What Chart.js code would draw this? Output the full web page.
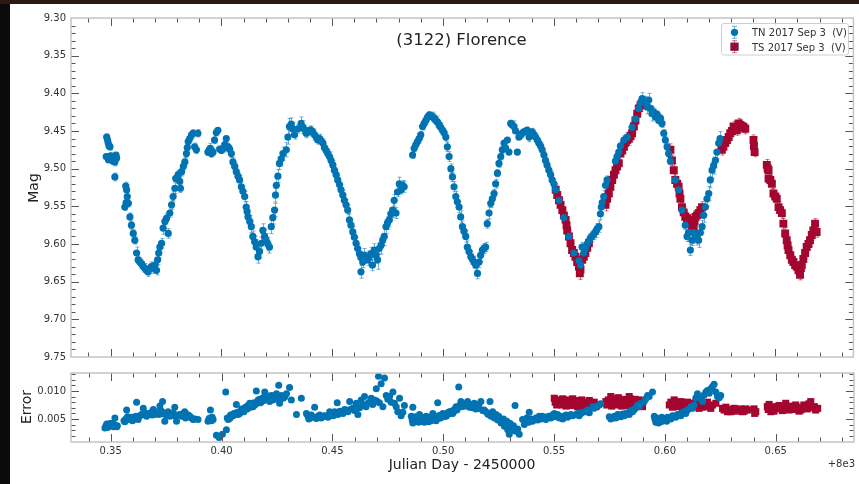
<!DOCTYPE html>
<html>
<head>
<meta charset="utf-8">
<script src="https://cdn.jsdelivr.net/npm/chart.js@4.4.1/dist/chart.umd.min.js"></script>
<style>
  html, body { margin: 0; padding: 0; }
  body { width: 859px; height: 484px; background: #0c0a0a; position: relative; overflow: hidden; font-family: "DejaVu Sans", sans-serif; color: #222; }
  #topstrip { position: absolute; left: 0; top: 0; width: 859px; height: 4px; background: #2b1a14; }
  #paper { position: absolute; left: 10px; top: 4px; width: 849px; height: 480px; background: #fff; }
  canvas { position: absolute; left: 0; }
  #magChart { top: 0; }
  #errChart { top: 360px; }
  .txt { position: absolute; white-space: pre; }
  .rot { transform: translate(-50%, -50%) rotate(-90deg); }
</style>
</head>
<body>
<div id="topstrip"></div>
<div id="paper"></div>
<canvas id="magChart" width="859" height="372"></canvas>
<canvas id="errChart" width="859" height="124"></canvas>

<div class="txt" style="left:461.5px; top:32px; font-size:16.5px; line-height:16.5px; transform:translateX(-50%);">(3122) Florence</div>
<div class="txt rot" style="left:32.6px; top:188px; font-size:14px; line-height:14px;">Mag</div>
<div class="txt rot" style="left:26.2px; top:407px; font-size:14px; line-height:14px;">Error</div>
<div class="txt" style="left:462px; top:456.7px; font-size:14px; line-height:14px; transform:translateX(-50%);">Julian Day - 2450000</div>
<div class="txt" style="right:4px; top:458.5px; font-size:10px; line-height:10px; color:#333;">+8e3</div>
<div class="txt" style="left:752px; top:28px; font-size:10px; line-height:10px; color:#333;">TN 2017 Sep 3  (V)</div>
<div class="txt" style="left:752px; top:42.5px; font-size:10px; line-height:10px; color:#333;">TS 2017 Sep 3  (V)</div>

<script>
// JD - 2458000 (days), magnitude, per observer
const tnJd = [
  0.3480, 0.3482, 0.3486, 0.3489, 0.3490, 0.3493, 0.3497, 0.3500, 0.3510, 0.3519,
  0.3519, 0.3524, 0.3527, 0.3564, 0.3568, 0.3570, 0.3572, 0.3575, 0.3580, 0.3587,
  0.3594, 0.3602, 0.3609, 0.3617, 0.3624, 0.3632, 0.3639, 0.3647, 0.3654, 0.3662,
  0.3669, 0.3677, 0.3684, 0.3692, 0.3700, 0.3707, 0.3712, 0.3717, 0.3722, 0.3730,
  0.3737, 0.3745, 0.3752, 0.3760, 0.3767, 0.3775, 0.3782, 0.3790, 0.3794, 0.3805,
  0.3812, 0.3815, 0.3820, 0.3828, 0.3835, 0.3842, 0.3846, 0.3850, 0.3857, 0.3865,
  0.3872, 0.3879, 0.3887, 0.3894, 0.3939, 0.3945, 0.3950, 0.3955, 0.3962, 0.3969,
  0.3977, 0.3984, 0.3992, 0.4000, 0.4007, 0.4015, 0.4022, 0.4030, 0.4037, 0.4045,
  0.4052, 0.4060, 0.4067, 0.4075, 0.4082, 0.4090, 0.4097, 0.4105, 0.4112, 0.4116,
  0.4120, 0.4128, 0.4135, 0.4142, 0.4150, 0.4157, 0.4165, 0.4172, 0.4180, 0.4187,
  0.4195, 0.4202, 0.4210, 0.4217, 0.4225, 0.4232, 0.4240, 0.4244, 0.4248, 0.4255,
  0.4262, 0.4270, 0.4278, 0.4293, 0.4300, 0.4307, 0.4315, 0.4322, 0.4330, 0.4345,
  0.4360, 0.4368, 0.4375, 0.4383, 0.4390, 0.4398, 0.4405, 0.4413, 0.4420, 0.4428,
  0.4435, 0.4443, 0.4450, 0.4458, 0.4465, 0.4473, 0.4480, 0.4488, 0.4495, 0.4503,
  0.4510, 0.4518, 0.4525, 0.4533, 0.4540, 0.4548, 0.4555, 0.4563, 0.4570, 0.4578,
  0.4585, 0.4593, 0.4600, 0.4608, 0.4615, 0.4623, 0.4630, 0.4630, 0.4638, 0.4645,
  0.4652, 0.4660, 0.4668, 0.4675, 0.4682, 0.4690, 0.4698, 0.4705, 0.4712, 0.4720,
  0.4728, 0.4735, 0.4743, 0.4750, 0.4758, 0.4765, 0.4773, 0.4780, 0.4788, 0.4795,
  0.4803, 0.4810, 0.4818, 0.4825, 0.4863, 0.4870, 0.4878, 0.4885, 0.4893, 0.4900,
  0.4908, 0.4915, 0.4923, 0.4930, 0.4938, 0.4945, 0.4953, 0.4960, 0.4968, 0.4975,
  0.4983, 0.4990, 0.4998, 0.5005, 0.5013, 0.5020, 0.5028, 0.5036, 0.5043, 0.5050,
  0.5058, 0.5065, 0.5073, 0.5080, 0.5088, 0.5095, 0.5103, 0.5110, 0.5118, 0.5126,
  0.5133, 0.5140, 0.5148, 0.5156, 0.5163, 0.5170, 0.5178, 0.5185, 0.5193, 0.5200,
  0.5208, 0.5216, 0.5223, 0.5231, 0.5238, 0.5246, 0.5253, 0.5261, 0.5268, 0.5276,
  0.5283, 0.5291, 0.5298, 0.5306, 0.5313, 0.5321, 0.5328, 0.5336, 0.5343, 0.5351,
  0.5358, 0.5366, 0.5373, 0.5381, 0.5389, 0.5396, 0.5403, 0.5411, 0.5418, 0.5426,
  0.5433, 0.5441, 0.5448, 0.5456, 0.5463, 0.5470, 0.5478, 0.5486, 0.5493, 0.5501,
  0.5508, 0.5524, 0.5546, 0.5569, 0.5591, 0.5614, 0.5621, 0.5628, 0.5636, 0.5643,
  0.5651, 0.5659, 0.5666, 0.5673, 0.5681, 0.5689, 0.5696, 0.5704, 0.5711, 0.5715,
  0.5719, 0.5726, 0.5734, 0.5741, 0.5779, 0.5786, 0.5794, 0.5801, 0.5817, 0.5832,
  0.5854, 0.5869, 0.5884, 0.5892, 0.5899, 0.5907, 0.5914, 0.5922, 0.5929, 0.5937,
  0.5944, 0.5952, 0.5959, 0.5967, 0.5974, 0.5982, 0.5989, 0.5997, 0.6004, 0.6012,
  0.6019, 0.6027, 0.6049, 0.6064, 0.6079, 0.6094, 0.6102, 0.6109, 0.6117, 0.6124,
  0.6132, 0.6140, 0.6147, 0.6154, 0.6162, 0.6170, 0.6177, 0.6185, 0.6192, 0.6200,
  0.6207, 0.6215, 0.6222, 0.6230, 0.6237, 0.6245, 0.6251
];
const tnMag = [
  9.484, 9.458, 9.462, 9.466, 9.488, 9.470, 9.471, 9.483, 9.490, 9.491,
  9.511, 9.482, 9.486, 9.551, 9.523, 9.545, 9.528, 9.537, 9.546, 9.564,
  9.575, 9.586, 9.595, 9.612, 9.621, 9.624, 9.626, 9.630, 9.632, 9.635,
  9.637, 9.633, 9.630, 9.632, 9.628, 9.635, 9.621, 9.612, 9.604, 9.599,
  9.579, 9.570, 9.566, 9.586, 9.559, 9.548, 9.537, 9.526, 9.513, 9.508,
  9.517, 9.526, 9.504, 9.497, 9.491, 9.480, 9.472, 9.464, 9.460, 9.455,
  9.453, 9.471, 9.475, 9.453, 9.478, 9.475, 9.473, 9.480, 9.478, 9.462,
  9.452, 9.449, 9.474, 9.476, 9.473, 9.468, 9.460, 9.471, 9.474, 9.480,
  9.491, 9.497, 9.504, 9.510, 9.515, 9.524, 9.530, 9.537, 9.551, 9.557,
  9.564, 9.570, 9.577, 9.590, 9.597, 9.604, 9.617, 9.610, 9.599, 9.582,
  9.590, 9.595, 9.600, 9.604, 9.577, 9.565, 9.555, 9.535, 9.522, 9.510,
  9.493, 9.487, 9.480, 9.475, 9.458, 9.444, 9.441, 9.447, 9.455, 9.447,
  9.440, 9.445, 9.448, 9.453, 9.451, 9.449, 9.449, 9.452, 9.455, 9.458,
  9.462, 9.460, 9.463, 9.466, 9.472, 9.476, 9.480, 9.484, 9.489, 9.495,
  9.502, 9.508, 9.515, 9.521, 9.528, 9.535, 9.542, 9.548, 9.555, 9.568,
  9.575, 9.584, 9.591, 9.599, 9.606, 9.613, 9.618, 9.637, 9.624, 9.615,
  9.618, 9.621, 9.617, 9.613, 9.628, 9.608, 9.615, 9.621, 9.606, 9.602,
  9.595, 9.590, 9.577, 9.572, 9.568, 9.560, 9.555, 9.542, 9.559, 9.531,
  9.520, 9.528, 9.522, 9.524, 9.482, 9.473, 9.468, 9.464, 9.460, 9.455,
  9.444, 9.440, 9.436, 9.432, 9.429, 9.430, 9.431, 9.433, 9.436, 9.438,
  9.442, 9.445, 9.449, 9.452, 9.458, 9.471, 9.484, 9.500, 9.511, 9.524,
  9.537, 9.544, 9.551, 9.564, 9.577, 9.583, 9.590, 9.604, 9.610, 9.617,
  9.620, 9.624, 9.628, 9.639, 9.624, 9.615, 9.608, 9.606, 9.604, 9.573,
  9.559, 9.546, 9.540, 9.533, 9.520, 9.506, 9.493, 9.484, 9.475, 9.466,
  9.473, 9.462, 9.478, 9.440, 9.442, 9.444, 9.450, 9.478, 9.458, 9.455,
  9.453, 9.451, 9.450, 9.449, 9.458, 9.454, 9.451, 9.455, 9.458, 9.462,
  9.466, 9.470, 9.475, 9.482, 9.489, 9.495, 9.502, 9.508, 9.515, 9.520,
  9.528, 9.542, 9.565, 9.590, 9.612, 9.622, 9.628, 9.604, 9.612, 9.606,
  9.600, 9.596, 9.592, 9.590, 9.587, 9.584, 9.580, 9.577, 9.560, 9.551,
  9.545, 9.537, 9.522, 9.515, 9.490, 9.484, 9.478, 9.470, 9.462, 9.458,
  9.445, 9.434, 9.420, 9.412, 9.407, 9.412, 9.413, 9.418, 9.409, 9.420,
  9.427, 9.425, 9.431, 9.428, 9.436, 9.433, 9.440, 9.453, 9.462, 9.471,
  9.480, 9.490, 9.515, 9.528, 9.555, 9.575, 9.590, 9.585, 9.608, 9.595,
  9.585, 9.590, 9.592, 9.595, 9.585, 9.577, 9.562, 9.551, 9.540, 9.533,
  9.515, 9.502, 9.496, 9.489, 9.478, 9.466, 9.460
];

const tsJd = [
  0.5509, 0.5516, 0.5524, 0.5531, 0.5539, 0.5546, 0.5554, 0.5558, 0.5561, 0.5569,
  0.5576, 0.5583, 0.5591, 0.5598, 0.5606, 0.5614, 0.5618, 0.5621, 0.5628, 0.5636,
  0.5643, 0.5651, 0.5659, 0.5734, 0.5741, 0.5749, 0.5756, 0.5764, 0.5772, 0.5779,
  0.5786, 0.5794, 0.5801, 0.5809, 0.5817, 0.5821, 0.5824, 0.5832, 0.5839, 0.5847,
  0.5854, 0.5862, 0.5869, 0.5877, 0.5884, 0.5892, 0.6027, 0.6034, 0.6042, 0.6049,
  0.6057, 0.6064, 0.6068, 0.6072, 0.6079, 0.6087, 0.6094, 0.6102, 0.6109, 0.6117,
  0.6124, 0.6132, 0.6136, 0.6140, 0.6147, 0.6154, 0.6162, 0.6170, 0.6259, 0.6266,
  0.6274, 0.6282, 0.6290, 0.6297, 0.6305, 0.6312, 0.6320, 0.6327, 0.6335, 0.6342,
  0.6350, 0.6357, 0.6365, 0.6402, 0.6404, 0.6407, 0.6462, 0.6466, 0.6470, 0.6470,
  0.6478, 0.6485, 0.6492, 0.6500, 0.6507, 0.6515, 0.6522, 0.6530, 0.6537, 0.6545,
  0.6552, 0.6556, 0.6560, 0.6568, 0.6575, 0.6582, 0.6590, 0.6597, 0.6605, 0.6612,
  0.6616, 0.6620, 0.6627, 0.6635, 0.6642, 0.6650, 0.6657, 0.6665, 0.6672, 0.6680,
  0.6687
];
const tsMag = [
  9.528, 9.535, 9.542, 9.548, 9.555, 9.562, 9.568, 9.575, 9.582, 9.590,
  9.599, 9.608, 9.612, 9.617, 9.624, 9.630, 9.639, 9.634, 9.621, 9.617,
  9.612, 9.605, 9.599, 9.548, 9.540, 9.533, 9.524, 9.515, 9.508, 9.502,
  9.497, 9.493, 9.480, 9.476, 9.471, 9.466, 9.464, 9.462, 9.460, 9.457,
  9.453, 9.444, 9.436, 9.427, 9.420, 9.416, 9.475, 9.489, 9.502, 9.515,
  9.520, 9.524, 9.533, 9.540, 9.551, 9.558, 9.564, 9.566, 9.568, 9.572,
  9.575, 9.577, 9.570, 9.564, 9.562, 9.559, 9.555, 9.551, 9.475, 9.471,
  9.466, 9.462, 9.458, 9.453, 9.450, 9.444, 9.446, 9.449, 9.440, 9.442,
  9.444, 9.445, 9.447, 9.462, 9.470, 9.478, 9.495, 9.500, 9.502, 9.513,
  9.515, 9.520, 9.533, 9.537, 9.540, 9.551, 9.555, 9.559, 9.573, 9.586,
  9.595, 9.602, 9.608, 9.615, 9.621, 9.624, 9.628, 9.630, 9.635, 9.641,
  9.632, 9.628, 9.620, 9.612, 9.604, 9.600, 9.595, 9.588, 9.582, 9.573,
  9.584
];

// photometric errors (bottom panel), [JD - 2458000, error]
const tnErrPts = [
  [0.3474, 0.0034], [0.3478, 0.0037], [0.3482, 0.0041], [0.3486, 0.0035], [0.3489, 0.0040],
  [0.3493, 0.0039], [0.3497, 0.0042], [0.3500, 0.0038], [0.3504, 0.0042], [0.3508, 0.0041],
  [0.3512, 0.0036], [0.3516, 0.0040], [0.3519, 0.0052], [0.3527, 0.0036], [0.3530, 0.0038],
  [0.3560, 0.0047], [0.3564, 0.0045], [0.3568, 0.0050], [0.3572, 0.0066], [0.3576, 0.0054],
  [0.3580, 0.0049], [0.3587, 0.0052], [0.3594, 0.0053], [0.3598, 0.0047], [0.3602, 0.0049],
  [0.3609, 0.0051], [0.3613, 0.0055], [0.3617, 0.0080], [0.3624, 0.0049], [0.3632, 0.0056],
  [0.3639, 0.0058], [0.3647, 0.0069], [0.3654, 0.0061], [0.3658, 0.0057], [0.3662, 0.0055],
  [0.3669, 0.0059], [0.3677, 0.0060], [0.3684, 0.0062], [0.3688, 0.0057], [0.3692, 0.0067],
  [0.3699, 0.0058], [0.3707, 0.0060], [0.3714, 0.0063], [0.3718, 0.0058], [0.3722, 0.0073],
  [0.3730, 0.0064], [0.3734, 0.0081], [0.3740, 0.0059], [0.3744, 0.0046], [0.3752, 0.0057],
  [0.3759, 0.0063], [0.3767, 0.0055], [0.3775, 0.0060], [0.3782, 0.0061], [0.3786, 0.0056],
  [0.3789, 0.0071], [0.3797, 0.0046], [0.3805, 0.0057], [0.3812, 0.0058], [0.3820, 0.0055],
  [0.3827, 0.0060], [0.3834, 0.0063], [0.3838, 0.0052], [0.3842, 0.0058], [0.3850, 0.0057],
  [0.3857, 0.0055], [0.3865, 0.0052], [0.3872, 0.0049], [0.3879, 0.0050], [0.3894, 0.0049],
  [0.3939, 0.0046], [0.3943, 0.0050], [0.3947, 0.0052], [0.3950, 0.0066], [0.3955, 0.0047],
  [0.3958, 0.0053], [0.3962, 0.0049], [0.3977, 0.0021], [0.3989, 0.0017], [0.4004, 0.0023],
  [0.4019, 0.0098], [0.4022, 0.0031], [0.4026, 0.0052], [0.4030, 0.0049], [0.4037, 0.0051],
  [0.4041, 0.0057], [0.4045, 0.0055], [0.4052, 0.0056], [0.4056, 0.0060], [0.4060, 0.0058],
  [0.4067, 0.0076], [0.4071, 0.0062], [0.4075, 0.0058], [0.4082, 0.0060], [0.4086, 0.0064],
  [0.4090, 0.0068], [0.4097, 0.0066], [0.4101, 0.0063], [0.4105, 0.0070], [0.4112, 0.0072],
  [0.4116, 0.0068], [0.4120, 0.0074], [0.4127, 0.0078], [0.4131, 0.0071], [0.4135, 0.0076],
  [0.4142, 0.0072], [0.4146, 0.0079], [0.4150, 0.0075], [0.4157, 0.0100], [0.4161, 0.0078],
  [0.4165, 0.0084], [0.4172, 0.0085], [0.4176, 0.0079], [0.4180, 0.0081], [0.4187, 0.0088],
  [0.4191, 0.0083], [0.4195, 0.0098], [0.4202, 0.0090], [0.4206, 0.0086], [0.4210, 0.0091],
  [0.4217, 0.0081], [0.4221, 0.0087], [0.4225, 0.0092], [0.4232, 0.0084], [0.4236, 0.0089],
  [0.4240, 0.0090], [0.4244, 0.0093], [0.4248, 0.0095], [0.4252, 0.0086], [0.4258, 0.0110],
  [0.4262, 0.0078], [0.4270, 0.0092], [0.4278, 0.0087], [0.4285, 0.0089], [0.4293, 0.0095],
  [0.4307, 0.0106], [0.4315, 0.0084], [0.4338, 0.0058], [0.4360, 0.0087], [0.4383, 0.0060],
  [0.4390, 0.0055], [0.4394, 0.0050], [0.4398, 0.0052], [0.4405, 0.0057], [0.4413, 0.0053],
  [0.4420, 0.0071], [0.4428, 0.0051], [0.4435, 0.0055], [0.4443, 0.0057], [0.4450, 0.0052],
  [0.4458, 0.0055], [0.4465, 0.0056], [0.4473, 0.0055], [0.4480, 0.0053], [0.4488, 0.0063],
  [0.4495, 0.0059], [0.4503, 0.0056], [0.4510, 0.0063], [0.4518, 0.0061], [0.4522, 0.0079],
  [0.4525, 0.0058], [0.4533, 0.0064], [0.4540, 0.0063], [0.4548, 0.0060], [0.4555, 0.0067],
  [0.4563, 0.0066], [0.4570, 0.0063], [0.4578, 0.0081], [0.4585, 0.0068], [0.4593, 0.0069],
  [0.4600, 0.0065], [0.4604, 0.0072], [0.4608, 0.0078], [0.4615, 0.0058], [0.4623, 0.0070],
  [0.4630, 0.0084], [0.4638, 0.0075], [0.4645, 0.0090], [0.4652, 0.0072], [0.4660, 0.0078],
  [0.4668, 0.0080], [0.4675, 0.0087], [0.4682, 0.0076], [0.4690, 0.0084], [0.4698, 0.0104],
  [0.4700, 0.0082], [0.4708, 0.0126], [0.4712, 0.0079], [0.4720, 0.0113], [0.4728, 0.0072],
  [0.4735, 0.0123], [0.4743, 0.0092], [0.4750, 0.0085], [0.4758, 0.0090], [0.4765, 0.0080],
  [0.4773, 0.0098], [0.4780, 0.0078], [0.4788, 0.0072], [0.4795, 0.0063], [0.4803, 0.0087],
  [0.4810, 0.0056], [0.4818, 0.0062], [0.4825, 0.0074], [0.4856, 0.0055], [0.4860, 0.0048],
  [0.4863, 0.0043], [0.4863, 0.0071], [0.4867, 0.0051], [0.4870, 0.0045], [0.4874, 0.0054],
  [0.4878, 0.0049], [0.4882, 0.0047], [0.4885, 0.0052], [0.4889, 0.0044], [0.4893, 0.0058],
  [0.4897, 0.0050], [0.4900, 0.0046], [0.4904, 0.0053], [0.4908, 0.0046], [0.4912, 0.0048],
  [0.4915, 0.0044], [0.4919, 0.0051], [0.4923, 0.0055], [0.4927, 0.0047], [0.4930, 0.0053],
  [0.4934, 0.0045], [0.4938, 0.0049], [0.4942, 0.0051], [0.4945, 0.0047], [0.4949, 0.0054],
  [0.4953, 0.0060], [0.4957, 0.0049], [0.4960, 0.0055], [0.4964, 0.0051], [0.4968, 0.0047],
  [0.4975, 0.0079], [0.4979, 0.0056], [0.4983, 0.0052], [0.4987, 0.0052], [0.4990, 0.0057],
  [0.4998, 0.0060], [0.5002, 0.0054], [0.5005, 0.0058], [0.5013, 0.0055], [0.5017, 0.0057],
  [0.5020, 0.0061], [0.5028, 0.0063], [0.5032, 0.0060], [0.5036, 0.0064], [0.5043, 0.0060],
  [0.5047, 0.0063], [0.5050, 0.0067], [0.5058, 0.0072], [0.5062, 0.0066], [0.5065, 0.0070],
  [0.5070, 0.0107], [0.5073, 0.0074], [0.5080, 0.0081], [0.5084, 0.0072], [0.5088, 0.0076],
  [0.5095, 0.0075], [0.5099, 0.0073], [0.5103, 0.0077], [0.5110, 0.0081], [0.5114, 0.0075],
  [0.5118, 0.0071], [0.5126, 0.0072], [0.5130, 0.0076], [0.5133, 0.0070], [0.5140, 0.0078],
  [0.5144, 0.0074], [0.5148, 0.0068], [0.5156, 0.0072], [0.5160, 0.0075], [0.5163, 0.0069],
  [0.5170, 0.0081], [0.5178, 0.0065], [0.5185, 0.0066], [0.5193, 0.0063], [0.5200, 0.0060],
  [0.5204, 0.0058], [0.5211, 0.0081], [0.5216, 0.0055], [0.5223, 0.0063], [0.5231, 0.0052],
  [0.5238, 0.0058], [0.5246, 0.0048], [0.5250, 0.0055], [0.5253, 0.0052], [0.5261, 0.0043],
  [0.5265, 0.0045], [0.5272, 0.0050], [0.5276, 0.0037], [0.5280, 0.0041], [0.5287, 0.0046],
  [0.5291, 0.0031], [0.5295, 0.0036], [0.5298, 0.0023], [0.5302, 0.0042], [0.5310, 0.0030],
  [0.5313, 0.0034], [0.5317, 0.0038], [0.5324, 0.0074], [0.5328, 0.0028], [0.5336, 0.0032],
  [0.5343, 0.0023], [0.5358, 0.0049], [0.5366, 0.0040], [0.5370, 0.0047], [0.5377, 0.0052],
  [0.5385, 0.0044], [0.5388, 0.0062], [0.5388, 0.0046], [0.5396, 0.0050], [0.5403, 0.0046],
  [0.5410, 0.0049], [0.5418, 0.0052], [0.5426, 0.0048], [0.5433, 0.0055], [0.5441, 0.0050],
  [0.5448, 0.0055], [0.5456, 0.0052], [0.5463, 0.0049], [0.5470, 0.0054], [0.5478, 0.0055],
  [0.5486, 0.0052], [0.5493, 0.0057], [0.5501, 0.0060], [0.5508, 0.0054], [0.5516, 0.0058],
  [0.5524, 0.0052], [0.5531, 0.0055], [0.5539, 0.0050], [0.5546, 0.0055], [0.5554, 0.0057],
  [0.5561, 0.0053], [0.5576, 0.0058], [0.5584, 0.0056], [0.5599, 0.0058], [0.5606, 0.0060],
  [0.5613, 0.0056], [0.5621, 0.0060], [0.5629, 0.0062], [0.5644, 0.0063], [0.5651, 0.0066],
  [0.5659, 0.0061], [0.5674, 0.0072], [0.5681, 0.0069], [0.5696, 0.0073], [0.5704, 0.0075],
  [0.5711, 0.0077], [0.5749, 0.0054], [0.5756, 0.0050], [0.5764, 0.0052], [0.5772, 0.0055],
  [0.5779, 0.0052], [0.5787, 0.0058], [0.5794, 0.0057], [0.5801, 0.0054], [0.5809, 0.0059],
  [0.5817, 0.0056], [0.5824, 0.0060], [0.5832, 0.0061], [0.5839, 0.0058], [0.5847, 0.0065],
  [0.5854, 0.0063], [0.5862, 0.0067], [0.5869, 0.0070], [0.5877, 0.0075], [0.5884, 0.0072],
  [0.5892, 0.0078], [0.5907, 0.0081], [0.5914, 0.0086], [0.5922, 0.0092], [0.5929, 0.0090],
  [0.5944, 0.0098], [0.5952, 0.0055], [0.5955, 0.0050], [0.5959, 0.0044], [0.5963, 0.0052],
  [0.5967, 0.0047], [0.5971, 0.0043], [0.5974, 0.0046], [0.5978, 0.0050], [0.5982, 0.0045],
  [0.5986, 0.0053], [0.5993, 0.0047], [0.5997, 0.0049], [0.6001, 0.0051], [0.6008, 0.0046],
  [0.6012, 0.0053], [0.6020, 0.0052], [0.6027, 0.0050], [0.6034, 0.0056], [0.6042, 0.0055],
  [0.6049, 0.0053], [0.6057, 0.0058], [0.6064, 0.0058], [0.6072, 0.0056], [0.6079, 0.0061],
  [0.6086, 0.0063], [0.6094, 0.0060], [0.6102, 0.0066], [0.6117, 0.0072], [0.6124, 0.0069],
  [0.6132, 0.0075], [0.6140, 0.0088], [0.6147, 0.0095], [0.6162, 0.0086], [0.6170, 0.0081],
  [0.6177, 0.0093], [0.6185, 0.0098], [0.6192, 0.0101], [0.6200, 0.0096], [0.6207, 0.0104],
  [0.6215, 0.0108], [0.6222, 0.0112], [0.6230, 0.0098], [0.6237, 0.0090], [0.6245, 0.0088],
  [0.6252, 0.0092]
];
const tsErrPts = [
  [0.5501, 0.0087], [0.5505, 0.0080], [0.5512, 0.0075], [0.5516, 0.0084], [0.5520, 0.0077],
  [0.5524, 0.0078], [0.5531, 0.0082], [0.5535, 0.0075], [0.5539, 0.0086], [0.5546, 0.0081],
  [0.5550, 0.0079], [0.5554, 0.0073], [0.5558, 0.0084], [0.5565, 0.0076], [0.5569, 0.0078],
  [0.5573, 0.0083], [0.5580, 0.0074], [0.5584, 0.0086], [0.5591, 0.0081], [0.5595, 0.0077],
  [0.5603, 0.0083], [0.5606, 0.0072], [0.5614, 0.0075], [0.5618, 0.0080], [0.5625, 0.0084],
  [0.5629, 0.0078], [0.5633, 0.0074], [0.5640, 0.0080], [0.5644, 0.0072], [0.5651, 0.0076],
  [0.5659, 0.0083], [0.5667, 0.0078], [0.5674, 0.0073], [0.5681, 0.0080], [0.5689, 0.0072],
  [0.5696, 0.0076], [0.5734, 0.0081], [0.5738, 0.0075], [0.5745, 0.0084], [0.5752, 0.0079],
  [0.5756, 0.0090], [0.5760, 0.0073], [0.5767, 0.0086], [0.5772, 0.0078], [0.5775, 0.0082],
  [0.5783, 0.0075], [0.5790, 0.0088], [0.5794, 0.0084], [0.5798, 0.0077], [0.5805, 0.0073],
  [0.5813, 0.0085], [0.5816, 0.0081], [0.5820, 0.0076], [0.5828, 0.0082], [0.5835, 0.0074],
  [0.5839, 0.0090], [0.5843, 0.0086], [0.5850, 0.0079], [0.5858, 0.0074], [0.5862, 0.0081],
  [0.5866, 0.0085], [0.5873, 0.0077], [0.5880, 0.0080], [0.5884, 0.0084], [0.5888, 0.0073],
  [0.5895, 0.0079], [0.5899, 0.0072], [0.6020, 0.0075], [0.6027, 0.0080], [0.6034, 0.0071],
  [0.6042, 0.0084], [0.6049, 0.0079], [0.6057, 0.0074], [0.6064, 0.0072], [0.6072, 0.0081],
  [0.6079, 0.0069], [0.6086, 0.0078], [0.6094, 0.0075], [0.6102, 0.0080], [0.6109, 0.0072],
  [0.6117, 0.0070], [0.6124, 0.0076], [0.6132, 0.0078], [0.6140, 0.0081], [0.6147, 0.0073],
  [0.6154, 0.0069], [0.6162, 0.0077], [0.6170, 0.0071], [0.6177, 0.0078], [0.6185, 0.0075],
  [0.6192, 0.0080], [0.6200, 0.0072], [0.6207, 0.0069], [0.6215, 0.0075], [0.6230, 0.0078],
  [0.6260, 0.0069], [0.6267, 0.0066], [0.6275, 0.0071], [0.6282, 0.0063], [0.6290, 0.0067],
  [0.6297, 0.0063], [0.6305, 0.0066], [0.6312, 0.0069], [0.6320, 0.0064], [0.6327, 0.0067],
  [0.6342, 0.0068], [0.6350, 0.0063], [0.6357, 0.0064], [0.6365, 0.0068], [0.6372, 0.0066],
  [0.6402, 0.0068], [0.6405, 0.0060], [0.6410, 0.0063], [0.6462, 0.0072], [0.6466, 0.0067],
  [0.6470, 0.0076], [0.6478, 0.0063], [0.6485, 0.0069], [0.6492, 0.0064], [0.6500, 0.0072],
  [0.6507, 0.0068], [0.6515, 0.0074], [0.6523, 0.0069], [0.6530, 0.0065], [0.6537, 0.0071],
  [0.6545, 0.0078], [0.6552, 0.0072], [0.6560, 0.0066], [0.6568, 0.0069], [0.6575, 0.0073],
  [0.6582, 0.0067], [0.6590, 0.0075], [0.6597, 0.0070], [0.6605, 0.0064], [0.6613, 0.0066],
  [0.6620, 0.0071], [0.6627, 0.0075], [0.6636, 0.0072], [0.6642, 0.0068], [0.6650, 0.0077],
  [0.6658, 0.0081], [0.6665, 0.0070], [0.6674, 0.0072], [0.6680, 0.0066], [0.6689, 0.0069]
];

const magTicks = [9.30, 9.35, 9.40, 9.45, 9.50, 9.55, 9.60, 9.65, 9.70, 9.75];
const jdTicks = [0.35, 0.40, 0.45, 0.50, 0.55, 0.60, 0.65];
const errTicks = [0.005, 0.010];

const BLUE = '#0173b2';
const RED = '#a3062f';
const X_MIN = 0.3321, X_MAX = 0.6853;

Chart.defaults.font.family = '"DejaVu Sans", sans-serif';
Chart.defaults.font.size = 10;
Chart.defaults.color = '#333';

// error of the closest error-panel observation
function nearestErr(pts, x) {
  let best = pts[0];
  pts.forEach(p => { if (Math.abs(p[0] - x) < Math.abs(best[0] - x)) best = p; });
  return best[1];
}

// error bars under the markers
const errorBars = {
  id: 'errorBars',
  beforeDatasetsDraw(chart) {
    const { ctx, scales: { x, y } } = chart;
    ctx.save();
    ctx.lineWidth = 1;
    chart.data.datasets.forEach(ds => {
      if (!ds.errColor) return;
      ctx.strokeStyle = ds.errColor;
      ctx.beginPath();
      ds.data.forEach(p => {
        const px = Math.round(x.getPixelForValue(p.x)) + 0.5;
        const y1 = y.getPixelForValue(p.y - p.e);
        const y2 = y.getPixelForValue(p.y + p.e);
        ctx.moveTo(px, y1); ctx.lineTo(px, y2);
        ctx.moveTo(px - 2, y1); ctx.lineTo(px + 2, y1);
        ctx.moveTo(px - 2, y2); ctx.lineTo(px + 2, y2);
      });
      ctx.stroke();
    });
    ctx.restore();
  }
};

// frame with inward major/minor ticks on all four sides
const frameTicks = {
  id: 'frameTicks',
  afterDraw(chart, args, opts) {
    const { ctx, chartArea: a, scales: { x, y } } = chart;
    ctx.save();
    ctx.strokeStyle = '#555';
    ctx.lineWidth = 1;
    ctx.beginPath();
    for (let k = opts.xk[0]; k <= opts.xk[1]; k++) {
      const px = Math.round(x.getPixelForValue(k / opts.xk[2])) + 0.5;
      if (px <= a.left + 1 || px >= a.right - 1) continue;
      const len = k % opts.xk[3] === 0 ? 8 : 4.5;
      ctx.moveTo(px, a.bottom); ctx.lineTo(px, a.bottom - len);
      ctx.moveTo(px, a.top); ctx.lineTo(px, a.top + len);
    }
    for (let k = opts.yk[0]; k <= opts.yk[1]; k++) {
      const py = Math.round(y.getPixelForValue(k / opts.yk[2])) + 0.5;
      if (py <= a.top + 1 || py >= a.bottom - 1) continue;
      const len = k % opts.yk[3] === 0 ? 8 : 4.5;
      ctx.moveTo(a.left, py); ctx.lineTo(a.left + len, py);
      ctx.moveTo(a.right, py); ctx.lineTo(a.right - len, py);
    }
    ctx.stroke();
    ctx.strokeStyle = '#c4c4c4';
    ctx.lineWidth = 1.5;
    ctx.strokeRect(a.left, a.top, a.right - a.left, a.bottom - a.top);
    ctx.restore();
  }
};

// legend box (labels are html text)
const boxLegend = {
  id: 'boxLegend',
  afterDraw(chart) {
    const { ctx } = chart;
    ctx.save();
    ctx.fillStyle = 'rgba(255,255,255,0.85)';
    ctx.strokeStyle = '#cfcfcf';
    ctx.lineWidth = 1;
    ctx.beginPath();
    ctx.roundRect(721.5, 23.5, 127, 31.5, 2.5);
    ctx.fill();
    ctx.stroke();
    chart.data.datasets.forEach((ds, i) => {
      const cx = 734, cy = 32.3 + i * 14.4;
      ctx.strokeStyle = ds.errColor;
      ctx.beginPath();
      ctx.moveTo(cx + 0.5, cy - 6); ctx.lineTo(cx + 0.5, cy + 6);
      ctx.moveTo(cx - 2, cy - 6); ctx.lineTo(cx + 3, cy - 6);
      ctx.moveTo(cx - 2, cy + 6); ctx.lineTo(cx + 3, cy + 6);
      ctx.stroke();
      Chart.helpers.drawPoint(ctx, {
        pointStyle: ds.pointStyle, radius: ds.pointRadius, borderWidth: 0, rotation: 0
      }, cx + 0.5, cy);
      ctx.fillStyle = ds.backgroundColor;
      ctx.fill();
    });
    ctx.restore();
  }
};

const tnPoints = tnJd.map((x, i) => ({ x, y: tnMag[i], e: nearestErr(tnErrPts, x) }));
const tsPoints = tsJd.map((x, i) => ({ x, y: tsMag[i], e: nearestErr(tsErrPts, x) }));

new Chart(document.getElementById('magChart'), {
  type: 'scatter',
  data: {
    datasets: [{
      label: 'TN 2017 Sep 3  (V)',
      data: tnPoints,
      backgroundColor: BLUE,
      borderWidth: 0,
      pointStyle: 'circle',
      pointRadius: 3.6,
      errColor: 'rgba(1,115,178,0.55)'
    }, {
      label: 'TS 2017 Sep 3  (V)',
      data: tsPoints,
      backgroundColor: RED,
      borderWidth: 0,
      pointStyle: 'rect',
      pointRadius: 5.6,
      errColor: 'rgba(163,6,47,0.55)'
    }]
  },
  options: {
    responsive: false,
    animation: false,
    devicePixelRatio: 1,
    layout: { padding: { top: 18, right: 4, bottom: 3, left: 0 } },
    plugins: {
      legend: { display: false },
      tooltip: { enabled: false },
      frameTicks: { xk: [34, 68, 100, 5], yk: [930, 975, 100, 5] }
    },
    scales: {
      x: {
        type: 'linear', min: X_MIN, max: X_MAX,
        grid: { display: false, drawTicks: false },
        border: { display: false },
        ticks: { display: false },
        afterBuildTicks: s => { s.ticks = jdTicks.map(v => ({ value: v })); },
        afterFit: s => { s.height = 12; }
      },
      y: {
        type: 'linear', reverse: true, min: 9.30, max: 9.75,
        grid: { display: false, drawTicks: false },
        border: { display: false },
        ticks: { padding: 5, callback: v => v.toFixed(2) },
        afterBuildTicks: s => { s.ticks = magTicks.map(v => ({ value: v })); },
        afterFit: s => { s.width = 71; }
      }
    }
  },
  plugins: [errorBars, frameTicks, boxLegend]
});

new Chart(document.getElementById('errChart'), {
  type: 'scatter',
  data: {
    datasets: [{
      label: 'TN 2017 Sep 3  (V)',
      data: tnErrPts.map(p => ({ x: p[0], y: p[1] })),
      backgroundColor: BLUE,
      borderWidth: 0,
      pointStyle: 'circle',
      pointRadius: 3.5
    }, {
      label: 'TS 2017 Sep 3  (V)',
      data: tsErrPts.map(p => ({ x: p[0], y: p[1] })),
      backgroundColor: RED,
      borderWidth: 0,
      pointStyle: 'rect',
      pointRadius: 5
    }]
  },
  options: {
    responsive: false,
    animation: false,
    devicePixelRatio: 1,
    layout: { padding: { top: 13, right: 4, bottom: 0, left: 0 } },
    plugins: {
      legend: { display: false },
      tooltip: { enabled: false },
      frameTicks: { xk: [34, 68, 100, 5], yk: [1, 13, 1000, 5] }
    },
    scales: {
      x: {
        type: 'linear', min: X_MIN, max: X_MAX,
        grid: { display: false, drawTicks: false },
        border: { display: false },
        ticks: { padding: 3, callback: v => v.toFixed(2) },
        afterBuildTicks: s => { s.ticks = jdTicks.map(v => ({ value: v })); },
        afterFit: s => { s.height = 42; }
      },
      y: {
        type: 'linear', min: 0.0009, max: 0.0132,
        grid: { display: false, drawTicks: false },
        border: { display: false },
        ticks: { padding: 5, callback: v => v.toFixed(3) },
        afterBuildTicks: s => { s.ticks = errTicks.map(v => ({ value: v })); },
        afterFit: s => { s.width = 71; }
      }
    }
  },
  plugins: [frameTicks]
});
</script>
</body>
</html>
